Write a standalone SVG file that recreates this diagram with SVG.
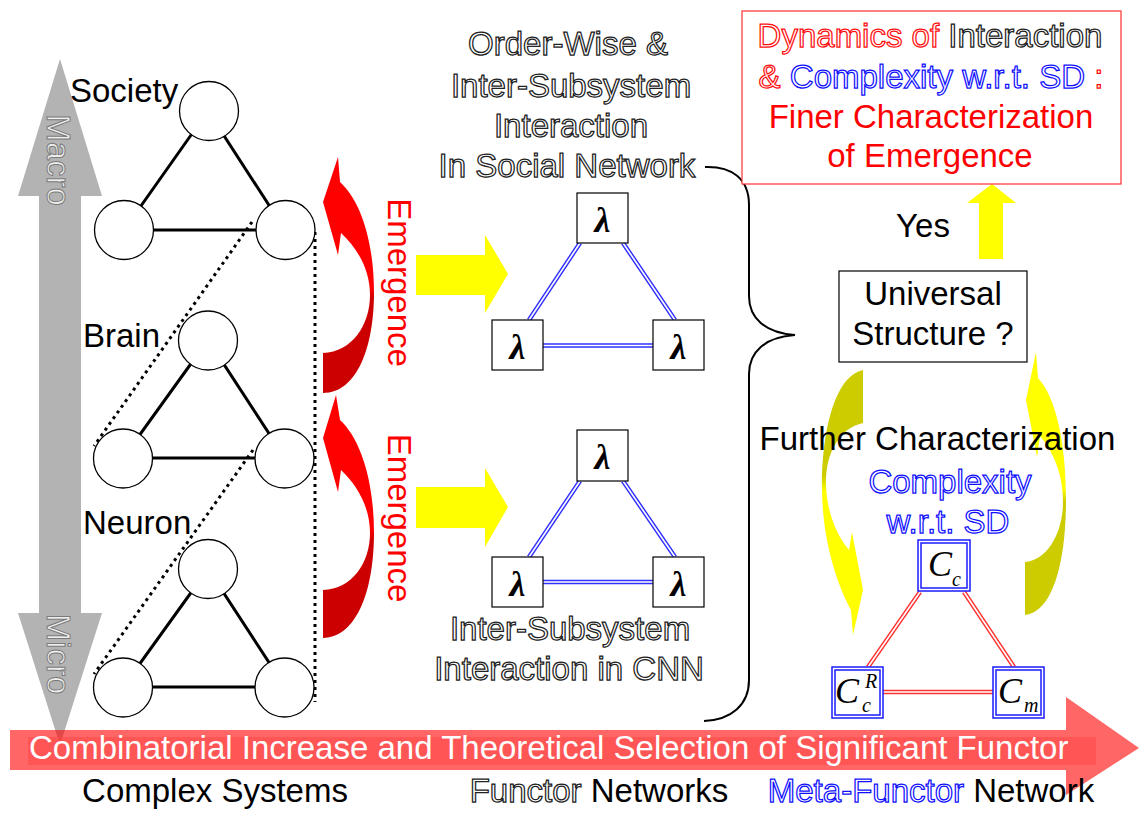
<svg xmlns="http://www.w3.org/2000/svg" width="1139" height="815" viewBox="0 0 1139 815">
<defs>
<style>
text{font-family:"Liberation Sans",Arial,sans-serif;font-size:33px}
.blk{fill:#000}
.olg{fill:#fff;stroke:#222;stroke-width:1.25}
.olr{fill:#fff;stroke:#ff1010;stroke-width:1.25}
.olb{fill:#fff;stroke:#1010ff;stroke-width:1.25}
.red{fill:#ff0000}
.circ{fill:#fff;stroke:#000;stroke-width:1.3}
.edge{stroke:#000;stroke-width:3;fill:none}
.dot{stroke:#000;stroke-width:3;stroke-dasharray:3 4;fill:none}
.lbox{fill:#fff;stroke:#000;stroke-width:1.2}
.cbox{fill:#fff;stroke:#1a1aff;stroke-width:1.5}
.lam{font-family:"Liberation Serif","Times New Roman",serif;font-style:italic;font-weight:bold;font-size:36px;fill:#000}
.cc{font-family:"Liberation Serif","Times New Roman",serif;font-style:italic;font-size:36px;fill:#000}
.sub{font-family:"Liberation Serif","Times New Roman",serif;font-style:italic;font-size:20px;fill:#000}
.dbB{stroke:#3030ff;stroke-width:4.5;fill:none}
.dbR{stroke:#ff3030;stroke-width:4.5;fill:none}
.dbW{stroke:#fff;stroke-width:1.6;fill:none}
.yel{fill:#ffff00}
</style>
<linearGradient id="gRed" x1="0" y1="0" x2="0" y2="1">
<stop offset="0.55" stop-color="#ff0000"/>
<stop offset="0.6" stop-color="#cc0000"/>
</linearGradient>
<linearGradient id="gYL" x1="0" y1="0" x2="0" y2="1">
<stop offset="0.4" stop-color="#cccc00"/>
<stop offset="0.46" stop-color="#ffff00"/>
</linearGradient>
<linearGradient id="gYR" x1="0" y1="0" x2="0" y2="1">
<stop offset="0.52" stop-color="#ffff00"/>
<stop offset="0.57" stop-color="#cccc00"/>
</linearGradient>
</defs>
<rect width="1139" height="815" fill="#fff"/>

<!-- Macro / Micro gray double arrow -->
<g id="scale-arrow">
<path d="M60,59 L102,196 L81,196 L81,613 L102,613 L60,745 L18,613 L39,613 L39,196 L18,196 Z" fill="#b3b3b3"/>
<text transform="translate(47,160) rotate(90)" text-anchor="middle" font-size="34" fill="#eeeeee" stroke="#7a7a7a" stroke-width="1">Macro</text>
<text transform="translate(47,654) rotate(90)" text-anchor="middle" font-size="34" fill="#eeeeee" stroke="#7a7a7a" stroke-width="1">Micro</text>
</g>

<!-- bottom red arrow -->
<g id="functor-arrow">
<path d="M10,730 L1066,730 L1066,697 L1139,748 L1066,795 L1066,770 L10,770 Z" fill="#ff0000" fill-opacity="0.6"/>
<rect x="28" y="737" width="1068" height="28" fill="#ff4444" fill-opacity="0.5"/>
<text x="29" y="759" font-size="33.8" fill="#fff">Combinatorial Increase and Theoretical Selection of Significant Functor</text>
</g>

<!-- connectors -->
<g id="connectors">
<path class="edge" d="M208,111 L124,230 L285,230 Z"/>
<path class="edge" d="M208,340 L123,458 L285,458 Z"/>
<path class="edge" d="M208,569 L123,687 L285,687 Z"/>
<path class="dot" d="M252,222 L94,446"/>
<path class="dot" d="M253,450 L94,674"/>
<path class="dot" d="M315,232 L315,702"/>
<path class="dbB" d="M580,243 L529,320 M623,243 L675,320 M543,345.5 L653,345.5"/>
<path class="dbW" d="M580,243 L529,320 M623,243 L675,320 M543,345.5 L653,345.5"/>
<path class="dbB" d="M580,481 L529,557 M623,481 L675,557 M543,582 L653,582"/>
<path class="dbW" d="M580,481 L529,557 M623,481 L675,557 M543,582 L653,582"/>
<path class="dbR" d="M920,592 L868,667 M964,592 L1014,667 M883,692 L993,692"/>
<path class="dbW" d="M920,592 L868,667 M964,592 L1014,667 M883,692 L993,692"/>
<path d="M705,167 C731,166 749,178 749,205 L749,296 C749,318 765,333 795,335 C765,337 749,352 749,374 L749,680 C749,705 731,720 704,721" fill="none" stroke="#000" stroke-width="2"/>
<path d="M336,395 L323,438 L338,492 L341,470 C358,486 370,508 370,533 C370,563 352,589 323,590 L323,638 C358,637 374,588 374,533 C374,480 360,438 340,420 Z" fill="url(#gRed)"/>
<path d="M338,157 L323,202 L338,255 L341,233 C358,249 370,270 370,295 C370,325 352,352 323,353 L323,393 C358,393 374,345 374,293 C374,240 360,200 340,182 Z" fill="url(#gRed)"/>
<path class="yel" d="M416,255 L485,255 L485,235 L508,274 L485,313 L485,295 L416,295 Z"/>
<path class="yel" d="M416,487 L485,487 L485,468 L508,507 L485,547 L485,528 L416,528 Z"/>
<path class="yel" d="M979,259 L979,203 L967,203 L992,184 L1016,203 L1003,203 L1003,259 Z"/>
<path d="M853,635 L863,590 L852,532 L849,550 C834,532 826,507 826,482 C826,452 840,428 863,423 L863,370 C835,376 822,430 822,487 C822,545 840,590 851,610 Z" fill="url(#gYL)"/>
<path d="M1036,352 L1026,400 L1037,457 L1040,436 C1056,455 1063,478 1063,502 C1063,532 1048,560 1025,562 L1025,615 C1053,612 1066,562 1066,500 C1066,440 1055,396 1038,378 Z" fill="url(#gYR)"/>
</g>

<g id="society">
<circle class="circ" cx="209" cy="111" r="29.5"/>
<circle class="circ" cx="124" cy="230" r="29.5"/>
<circle class="circ" cx="285.5" cy="230" r="29.5"/>
<text class="blk" x="70" y="102">Society</text>
</g>
<g id="brain">
<circle class="circ" cx="208" cy="340.5" r="29.5"/>
<circle class="circ" cx="123" cy="458.5" r="29.5"/>
<circle class="circ" cx="284.5" cy="458.5" r="29.5"/>
<text class="blk" x="83" y="347">Brain</text>
</g>
<g id="neuron">
<circle class="circ" cx="208" cy="569" r="29.5"/>
<circle class="circ" cx="123" cy="687.5" r="29.5"/>
<circle class="circ" cx="284.5" cy="687.5" r="29.5"/>
<text class="blk" x="83" y="534">Neuron</text>
</g>
<g id="emergence-labels">
<text class="red" transform="translate(388,282.5) rotate(90)" text-anchor="middle">Emergence</text>
<text class="red" transform="translate(388,518) rotate(90)" text-anchor="middle">Emergence</text>
</g>

<g id="social-title" text-anchor="middle">
<text class="olg" x="568" y="55">Order-Wise &amp;</text>
<text class="olg" x="571" y="97">Inter-Subsystem</text>
<text class="olg" x="571" y="137">Interaction</text>
<text class="olg" x="567" y="177">In Social Network</text>
</g>
<g id="lambda-net-1">
<rect class="lbox" x="577" y="193" width="51" height="50"/>
<rect class="lbox" x="492" y="320" width="51" height="50"/>
<rect class="lbox" x="653" y="320" width="51" height="50"/>
<text class="lam" x="602.5" y="232" text-anchor="middle">λ</text>
<text class="lam" x="517.5" y="359" text-anchor="middle">λ</text>
<text class="lam" x="678.5" y="359" text-anchor="middle">λ</text>
</g>
<g id="lambda-net-2">
<rect class="lbox" x="577" y="430" width="51" height="51"/>
<rect class="lbox" x="492" y="557" width="51" height="50"/>
<rect class="lbox" x="653" y="557" width="51" height="50"/>
<text class="lam" x="602.5" y="469" text-anchor="middle">λ</text>
<text class="lam" x="517.5" y="596" text-anchor="middle">λ</text>
<text class="lam" x="678.5" y="596" text-anchor="middle">λ</text>
</g>
<g id="cnn-title" text-anchor="middle">
<text class="olg" x="570" y="640">Inter-Subsystem</text>
<text class="olg" x="569" y="680">Interaction in CNN</text>
</g>

<g id="result-box">
<rect x="742" y="11" width="379" height="173" fill="#fff" stroke="#ff3030" stroke-width="1.2"/>
<text x="930" y="47" text-anchor="middle"><tspan class="olr">Dynamics of </tspan><tspan class="olg">Interaction</tspan></text>
<text x="931" y="88" text-anchor="middle"><tspan class="olr">&amp; </tspan><tspan class="olb">Complexity w.r.t. SD </tspan><tspan class="olr">:</tspan></text>
<text class="red" x="931" y="128" text-anchor="middle">Finer Characterization</text>
<text class="red" x="930" y="167" text-anchor="middle">of Emergence</text>
</g>
<g id="yes-label">
<text class="blk" x="923" y="237" text-anchor="middle">Yes</text>
</g>
<g id="universal">
<rect x="839" y="271" width="188" height="91" fill="#fff" stroke="#000" stroke-width="1.2"/>
<text class="blk" x="933" y="305" text-anchor="middle">Universal</text>
<text class="blk" x="933" y="345" text-anchor="middle">Structure ?</text>
</g>
<g id="further">
<text class="blk" x="937.5" y="450" text-anchor="middle">Further Characterization</text>
<text class="olb" x="950" y="493" text-anchor="middle">Complexity</text>
<text class="olb" x="948" y="533" text-anchor="middle">w.r.t. SD</text>
</g>
<g id="meta-net">
<rect class="cbox" x="918" y="540" width="52" height="51"/>
<rect class="cbox" x="921" y="543" width="46" height="45"/>
<rect class="cbox" x="832" y="667" width="51" height="51"/>
<rect class="cbox" x="835" y="670" width="45" height="45"/>
<rect class="cbox" x="993" y="667" width="51" height="51"/>
<rect class="cbox" x="996" y="670" width="45" height="45"/>
<text class="cc" x="928" y="576">C</text><text class="sub" x="952" y="586">c</text>
<text class="cc" x="835" y="703">C</text><text class="sub" x="865" y="688">R</text><text class="sub" x="862" y="712">c</text>
<text class="cc" x="998" y="703">C</text><text class="sub" x="1024" y="712">m</text>
</g>

<g id="captions">
<text class="blk" x="215" y="802" text-anchor="middle">Complex Systems</text>
<text x="599" y="802" text-anchor="middle"><tspan class="olg">Functor </tspan><tspan class="blk">Networks</tspan></text>
<text x="931" y="802" text-anchor="middle"><tspan class="olb">Meta-Functor </tspan><tspan class="blk">Network</tspan></text>
</g>
</svg>
